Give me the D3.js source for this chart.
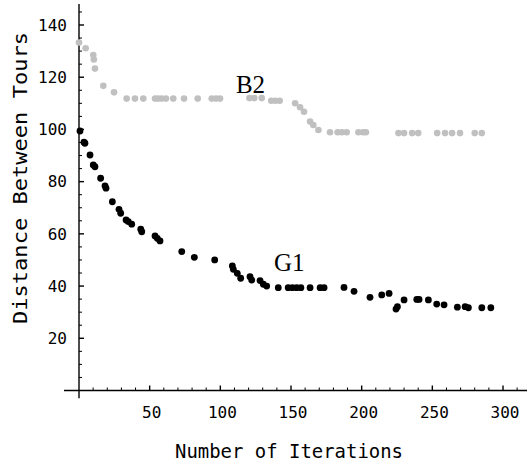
<!DOCTYPE html>
<html>
<head>
<meta charset="utf-8">
<script src="https://cdn.jsdelivr.net/npm/d3@7"></script>
<style>
  html, body { margin: 0; padding: 0; background: #fff; }
  svg { display: block; }
</style>
</head>
<body>
<svg id="chart" width="531" height="466"></svg>
<script>
// ---- data ----
const b2Iter = [0, 4.7, 10.1, 10.5, 11.3, 17.2, 24.8, 33.7, 39.6, 45.5, 53.8, 56, 58.5, 61.5, 66.7, 74.3, 84, 93.9, 97, 99.8,
  120.6, 124, 129.3, 136, 139, 142, 152.9, 156.4, 159.2, 163.5, 165.8, 169.4, 177.6, 183, 186, 189.4, 197.7, 201, 203,
  226, 230, 235.7, 240, 253.4, 259, 264, 269.6, 280, 285];
const b2Dist = [133.3, 131.1, 128.5, 126.8, 123.3, 116.7, 114.2, 111.8, 111.8, 111.8, 111.8, 111.8, 111.8, 111.8, 111.8, 111.8, 111.8, 111.8, 111.8, 111.8,
  112, 112, 112, 111, 111, 111, 110, 108.5, 106.8, 103, 101.7, 99.8, 98.9, 98.9, 98.9, 98.9, 98.9, 98.9, 98.9,
  98.6, 98.6, 98.6, 98.6, 98.6, 98.6, 98.6, 98.6, 98.6, 98.6];

const g1Iter = [0.7, 3.5, 4.2, 7.8, 10.1, 11.3, 15.3, 18.4, 19.1, 23.6, 28.3, 29.5, 33.3, 34.9, 37.3, 43.7, 44.4, 53.8, 55.4, 57.3,
  72.7, 81.6, 96, 108.5, 109.2, 112, 114.4, 121, 122.2, 128.1, 130.4, 132.8, 141, 148, 151, 154, 157, 163.5, 170.6, 173.4,
  187.5, 194.6, 205.9, 214.2, 219.4, 224.3, 225.3, 230, 239, 240.6, 247.2, 253.1, 258.3, 267.7, 273.2, 275.5, 285, 291.4];
const g1Dist = [99.4, 95.1, 94.7, 90.2, 86.4, 85.7, 81.3, 78.4, 77.5, 72.3, 69.4, 67.9, 65.3, 64.7, 63.7, 61.8, 60.8, 59.2, 58.3, 57.3,
  53.2, 51, 50, 47.7, 46.4, 44.9, 43, 43.6, 42.3, 42.1, 40.7, 40, 39.4, 39.4, 39.4, 39.4, 39.4, 39.4, 39.4, 39.4,
  39.5, 38, 35.7, 36.6, 37.2, 31.2, 32.1, 34.7, 34.9, 34.9, 34.7, 33.1, 32.8, 31.9, 32.1, 31.7, 31.7, 31.7];

const xTickValues = [50, 100, 150, 200, 250, 300];
const yTickValues = [20, 40, 60, 80, 100, 120, 140];
const seriesLabels = ["B2", "G1"];
const xTitle = "Number of Iterations";
const yTitle = "Distance Between Tours";

// ---- scales ----
const x = d3.scaleLinear().domain([0, 300]).range([79, 503]);
const y = d3.scaleLinear().domain([0, 140]).range([390.5, 25]);

const svg = d3.select("#chart");
const monoFont = "'DejaVu Sans Mono', monospace";

// axes lines (crossing at origin)
const axisG = svg.append("g").attr("stroke", "#000").attr("stroke-width", 1.4);
axisG.append("line").attr("x1", x(-10.6)).attr("x2", x(317)).attr("y1", y(0)).attr("y2", y(0));
axisG.append("line").attr("x1", x(0)).attr("x2", x(0)).attr("y1", y(-3)).attr("y2", y(148));

// x ticks (pointing up)
const xMinor = d3.range(10, 320, 10).filter(v => v % 50 !== 0);
axisG.selectAll(".xmaj").data(xTickValues).join("line")
  .attr("x1", d => x(d)).attr("x2", d => x(d)).attr("y1", y(0)).attr("y2", y(0) - 5);
axisG.selectAll(".xmin").data(xMinor).join("line").attr("class", "xmin")
  .attr("stroke-width", 1)
  .attr("x1", d => x(d)).attr("x2", d => x(d)).attr("y1", y(0)).attr("y2", y(0) - 3);

// y ticks (pointing right)
const yMinor = d3.range(5, 150, 5).filter(v => v % 20 !== 0);
axisG.selectAll(".ymaj").data(yTickValues).join("line").attr("class", "ymaj")
  .attr("x1", x(0)).attr("x2", x(0) + 5).attr("y1", d => y(d)).attr("y2", d => y(d));
axisG.selectAll(".ymin").data(yMinor).join("line").attr("class", "ymin")
  .attr("stroke-width", 1)
  .attr("x1", x(0)).attr("x2", x(0) + 3).attr("y1", d => y(d)).attr("y2", d => y(d));

// tick labels
svg.append("g").selectAll("text").data(xTickValues).join("text")
  .attr("x", d => x(d) + 2).attr("y", 418)
  .attr("text-anchor", "middle")
  .attr("font-family", monoFont).attr("font-size", 16)
  .attr("fill", "#000")
  .text(d => d);
svg.append("g").selectAll("text").data(yTickValues).join("text")
  .attr("x", 67).attr("y", d => y(d)).attr("dy", "0.36em")
  .attr("text-anchor", "end")
  .attr("font-family", monoFont).attr("font-size", 16)
  .attr("fill", "#000")
  .text(d => d);

// axis titles
svg.append("text")
  .attr("x", 289).attr("y", 458)
  .attr("text-anchor", "middle")
  .attr("font-family", monoFont).attr("font-size", 19)
  .attr("textLength", 228).attr("lengthAdjust", "spacingAndGlyphs")
  .attr("fill", "#000")
  .text(xTitle);
svg.append("text")
  .attr("transform", "translate(27,178) rotate(-90)")
  .attr("text-anchor", "middle")
  .attr("font-family", monoFont).attr("font-size", 20)
  .attr("textLength", 292).attr("lengthAdjust", "spacingAndGlyphs")
  .attr("fill", "#000")
  .text(yTitle);

// points
const b2 = b2Iter.map((v, i) => [v, b2Dist[i]]);
const g1 = g1Iter.map((v, i) => [v, g1Dist[i]]);
svg.append("g").selectAll("circle").data(b2).join("circle")
  .attr("cx", d => x(d[0])).attr("cy", d => y(d[1])).attr("r", 3.3)
  .attr("fill", "#c0c0c0");
svg.append("g").selectAll("circle").data(g1).join("circle")
  .attr("cx", d => x(d[0])).attr("cy", d => y(d[1])).attr("r", 3.4)
  .attr("fill", "#000");

// series labels
const labelPos = [[111, 114], [138, 45.7]];
svg.append("g").selectAll("text").data(seriesLabels).join("text")
  .attr("x", (d, i) => x(labelPos[i][0])).attr("y", (d, i) => y(labelPos[i][1]))
  .attr("font-family", "'Liberation Serif', serif").attr("font-size", 25)
  .attr("fill", "#000")
  .text(d => d);
</script>
</body>
</html>
